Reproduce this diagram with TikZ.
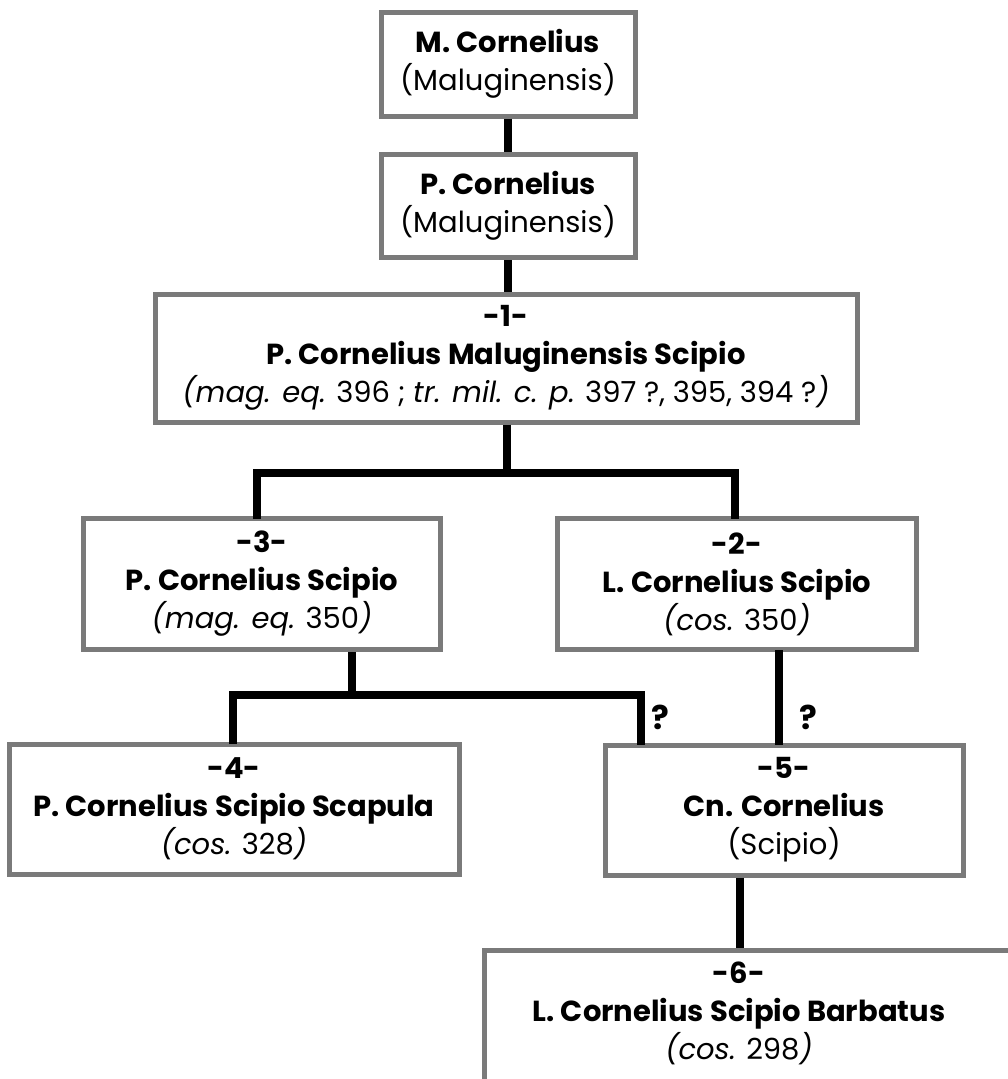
\documentclass[tikz,border=0pt]{standalone}
\usepackage{fontspec}
\setmainfont{Poppins}
\begin{document}
\begin{tikzpicture}[x=1pt,y=-1pt,
  person/.style={draw=boxgray,line width=5pt,fill=white,inner sep=0pt,align=center,
     font=\fontsize{29}{38}\selectfont},
  link/.style={draw=black,line width=8pt,line join=miter},
  qmark/.style={font=\fontsize{33}{34}\selectfont\bfseries,inner sep=0pt}]
\definecolor{boxgray}{HTML}{7A7A7A}
\useasboundingbox (0,0) rectangle (1008,1079);
% boxes
\node[person,minimum width=254pt,minimum height=104pt] (m) at (508,64)
  {\textbf{M. Cornelius}\\(Maluginensis)};
\node[person,minimum width=254pt,minimum height=103pt] (p) at (508,206)
  {\textbf{P. Cornelius}\\(Maluginensis)};
\node[person,minimum width=702pt,minimum height=128pt] (b1) at (506,358)
  {\textbf{-1-}\\\textbf{P. Cornelius Maluginensis Scipio}\\\textit{(mag. eq.} 396 ; \textit{tr. mil. c. p.} 397 ?, 395, 394 ?\textit{)}};
\node[person,minimum width=357pt,minimum height=131pt] (b3) at (262,584)
  {\textbf{-3-}\\\textbf{P. Cornelius Scipio}\\\textit{(mag. eq.} 350\textit{)}};
\node[person,minimum width=359pt,minimum height=131pt] (b2) at (737,584)
  {\textbf{-2-}\\\textbf{L. Cornelius Scipio}\\\textit{(cos.} 350\textit{)}};
\node[person,minimum width=450pt,minimum height=130pt] (b4) at (234,809)
  {\textbf{-4-}\\\textbf{P. Cornelius Scipio Scapula}\\\textit{(cos.} 328\textit{)}};
\node[person,minimum width=358pt,minimum height=130pt] (b5) at (784,810)
  {\textbf{-5-}\\\textbf{Cn. Cornelius}\\(Scipio)};
\node[person,minimum width=540pt,minimum height=160pt] (b6) at (754,1030) {};
\node[person,draw=none,fill=none] (b6t) at (739,1013)
  {\textbf{-6-}\\\textbf{L. Cornelius Scipio Barbatus}\\\textit{(cos.} 298\textit{)}};
% junction coordinates
\coordinate (j1) at (507,473);
\coordinate (j3) at (352,695);
% connectors
\draw[link] (m.south) -- (p.north);
\draw[link] (p.south) -- (b1.north -| p.south);
\draw[link] (b1.south -| j1) -- (j1);
\draw[link] (257,519) |- (j1) -| (735,519);
\draw[link] (b3.south -| j3) -- (j3);
\draw[link] (233,744) |- (j3) -| (641,745);
\draw[link] (779,650) -- (779,745);
\draw[link] (b5.south -| 740,0) -- (b6.north -| 740,0);
% question marks
\node[qmark] (q1) at (660,717) {?};
\node[qmark] (q2) at (808,717) {?};
\end{tikzpicture}
\end{document}
